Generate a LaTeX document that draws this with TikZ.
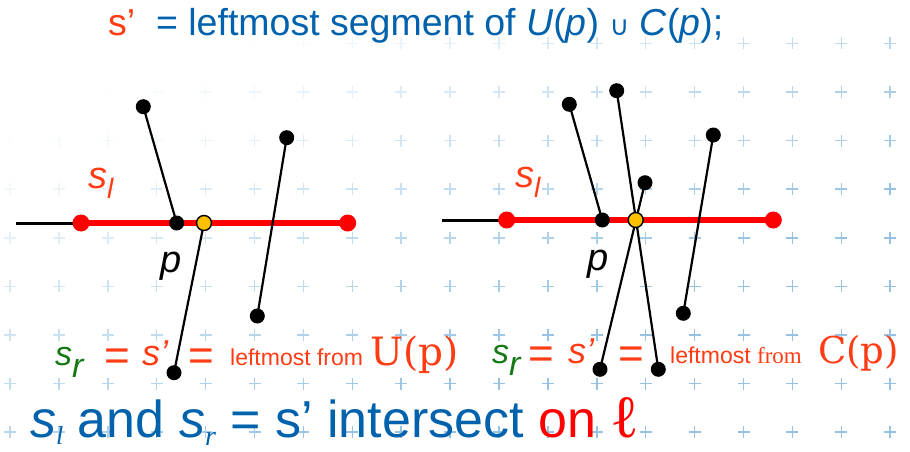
\documentclass[tikz,border=0pt]{standalone}
\usepackage{fontspec}
\setmainfont{Liberation Sans}
\newfontfamily\serifrm{Liberation Serif}
\newfontfamily\dvserif{DejaVu Serif}
\newfontfamily\dvsans{DejaVu Sans}
\definecolor{tblue}{RGB}{0,98,172}
\definecolor{tred}{RGB}{255,60,20}
\definecolor{tgreen}{RGB}{20,120,20}
\definecolor{onred}{RGB}{255,0,0}
\definecolor{segred}{RGB}{255,0,0}
\definecolor{dotyellow}{RGB}{255,192,0}
\definecolor{crossblue}{RGB}{150,195,228}
\pgfdeclarelayer{grid}
\pgfdeclarelayer{segs}
\pgfsetlayers{grid,segs,main}
\newcommand\fs[1]{\fontsize{#1}{#1}\selectfont}
\begin{document}
\begin{tikzpicture}[x=1pt,y=-1pt,
  dot/.style={circle,fill=black,inner sep=0pt,minimum size=15pt},
  rdot/.style={circle,fill=segred,inner sep=0pt,minimum size=17pt},
  ydot/.style={circle,fill=dotyellow,draw=black,line width=1.4pt,inner sep=0pt,minimum size=15pt},
  seg/.style={line width=2.2pt,black},
  stub/.style={line width=3pt,black},
  redseg/.style={line width=6pt,segred},
  txt/.style={inner sep=0pt,anchor=base west},
  eq/.style={inner sep=0pt,anchor=base west,tred,font=\fs{44}},
]
\useasboundingbox (0,0) rectangle (910,452);
% background crosses
\begin{pgfonlayer}{grid}
\fill[white] (0,0) rectangle (910,452);
\foreach \i in {0,...,18}{
  \foreach \j in {0,...,8}{
    \pgfmathsetmacro\cx{10+48.9*\i}
    \pgfmathsetmacro\cy{43.4+48.6*\j}
    \pgfmathsetmacro\op{max(0,min(1,0.9*\cx/910+1.0*\cy/452-0.3))}
    \draw[crossblue,line width=1.5pt,opacity=\op] (\cx-6,\cy) -- (\cx+6,\cy) (\cx,\cy-6) -- (\cx,\cy+6);
  }}
\end{pgfonlayer}

% title
\node[txt] (title) at (108,36) {\fs{37.5}{\color{tred}s’}\ \ {\color{tblue}= leftmost segment of \textit{U}(\textit{p}) {\dvsans\fs{27}∪} \textit{C}(\textit{p});}};

% left figure
\coordinate (L0) at (16,223);
\node[rdot] (LR1) at (81,223) {};
\node[rdot] (LR2) at (347.7,223) {};
\node[dot] (Lp) at (176.7,223) {};
\node[dot] (Lpt) at (143.3,106.7) {};
\node[ydot] (Ly) at (204,223) {};
\node[dot] (Lyb) at (174,372.7) {};
\node[dot] (La) at (286.7,137.7) {};
\node[dot] (Lb) at (257.3,316) {};
\begin{pgfonlayer}{segs}
\draw[stub] (L0) -- (LR1.center);
\draw[redseg] (LR1.center) -- (LR2.center);
\draw[seg] (Lpt.center) -- (Lp.center);
\draw[seg] (Ly.center) -- (Lyb.center);
\draw[seg] (La.center) -- (Lb.center);
\end{pgfonlayer}
\node[txt,tred] (Lsl) at (88,188) {\fs{38}\textit{s}\raisebox{-10pt}{\fs{28}\textit{l}}};
\node[txt] (Lplab) at (160,272) {\fs{38}\textit{p}};

% right figure
\coordinate (R0) at (442,220);
\node[rdot] (RR1) at (506.7,220) {};
\node[rdot] (RR2) at (773.3,220) {};
\node[dot] (Rp) at (602.3,220) {};
\node[dot] (Rpt) at (569.3,104.3) {};
\node[ydot] (Ry) at (635.7,220) {};
\node[dot] (Rc) at (616.7,90.7) {};
\node[dot] (Rcb) at (658.3,369.3) {};
\node[dot] (Rd) at (645,182.7) {};
\node[dot] (Rdb) at (600,369.3) {};
\node[dot] (Re) at (713.3,135) {};
\node[dot] (Rf) at (683.3,313.3) {};
\begin{pgfonlayer}{segs}
\draw[stub] (R0) -- (RR1.center);
\draw[redseg] (RR1.center) -- (RR2.center);
\draw[seg] (Rpt.center) -- (Rp.center);
\draw[seg] (Rc.center) -- (Rcb.center);
\draw[seg] (Rd.center) -- (Rdb.center);
\draw[seg] (Re.center) -- (Rf.center);
\end{pgfonlayer}
\node[txt,tred] (Rsl) at (515,187) {\fs{38}\textit{s}\raisebox{-10pt}{\fs{28}\textit{l}}};
\node[txt] (Rplab) at (587,270) {\fs{38}\textit{p}};

% second line, left
\node[txt,tgreen] (lsr) at (55,365) {\fs{34}\textit{s}\raisebox{-12pt}{\textit{r}}};
\node[eq] (leq1) at (104,370) {=};
\node[txt,tred] (ls) at (142,365) {\fs{36}\textit{s’}};
\node[eq] (leq2) at (188,370) {=};
\node[txt,tred] (llf) at (230,365) {\fs{23}leftmost from};
\node[txt,tred] (lU) at (370,365) {\dvserif\fs{39}U(p)};

% second line, right
\node[txt,tgreen] (rsr) at (492,363) {\fs{34}\textit{s}\raisebox{-12pt}{\textit{r}}};
\node[eq] (req1) at (528,368) {=};
\node[txt,tred] (rs) at (568,363) {\fs{36}\textit{s’}};
\node[eq] (req2) at (618,368) {=};
\node[txt,tred] (rlf) at (670,363) {\fs{23}leftmost {\serifrm from}};
\node[txt,tred] (rC) at (818,363) {\dvserif\fs{37}C(p)};

% bottom line
\node[txt,tblue] (bottom) at (30,437) {\fs{52}\textit{s}\raisebox{-7pt}{\fs{26}\serifrm\itshape l} and \textit{s}\raisebox{-8pt}{\fs{28}\serifrm\itshape r} = s’ intersect {\color{onred}on {\fs{60}\serifrm ℓ}}};
\end{tikzpicture}
\end{document}
